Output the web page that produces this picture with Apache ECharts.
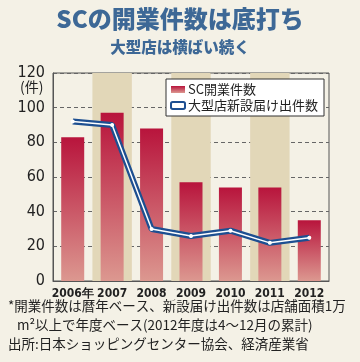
<!DOCTYPE html>
<html><head><meta charset="utf-8">
<script src="https://cdn.jsdelivr.net/npm/echarts@6/dist/echarts.min.js"></script>
<style>html,body{margin:0;padding:0;background:#f4f1e6;}#c{width:360px;height:362px;}</style>
</head><body><div id="c"></div>
<script>
const categories = ['2006年','2007','2008','2009','2010','2011','2012'];
const scOpenings = [83, 97, 88, 57, 54, 54, 35];
const largeStoreFilings = [92, 90, 30, 26, 29, 22, 25];
const yTicks = [0, 20, 40, 60, 80, 100, 120];

const chart = echarts.init(document.getElementById('c'), null, {renderer:'canvas'});
const narrow = '"DejaVu Sans Condensed","Liberation Sans Narrow",sans-serif';
const jp = '"Noto Sans CJK JP",sans-serif';
chart.setOption({
  backgroundColor:'#f4f1e6',
  animation:false,
  title:[
    {text:'SCの開業件数は底打ち', left:'center', top:2, textStyle:{fontFamily:jp, fontWeight:900, fontSize:24, color:'#3d6896'}},
    {text:'大型店は横ばい続く', left:'center', top:34, textStyle:{fontFamily:jp, fontWeight:900, fontSize:15.5, color:'#3d6896'}}
  ],
  grid:{left:53, right:31, top:73, bottom:81, show:true, borderColor:'#555', borderWidth:1, backgroundColor:'transparent'},
  legend:{
    data:[
      {name:'SC開業件数', icon:'rect'},
      {name:'大型店新設届け出件数', icon:'roundRect', itemStyle:{color:'#fff', borderColor:'#1d4f91', borderWidth:2}}
    ],
    orient:'vertical', left:166, top:79, width:157,
    backgroundColor:'#fff', borderColor:'#333', borderWidth:1, padding:[4,6,4,4],
    itemGap:3, itemWidth:14, itemHeight:7,
    textStyle:{fontFamily:jp, fontSize:13, color:'#222', padding:[0,0,0,-2]}
  },
  xAxis:{
    type:'category', data:categories, boundaryGap:true,
    axisLine:{lineStyle:{color:'#555'}}, axisTick:{show:false},
    axisLabel:{interval:0, fontFamily:narrow, fontSize:12, fontWeight:'bold', color:'#222', margin:7},
    splitArea:{show:true, interval:0, areaStyle:{color:['rgba(0,0,0,0)','#e2d7b8']}}
  },
  yAxis:{
    type:'value', min:0, max:120, interval:20,
    axisLine:{show:true, lineStyle:{color:'#555'}}, axisTick:{show:false},
    axisLabel:{fontFamily:narrow, fontSize:16, color:'#222', margin:8},
    splitLine:{show:true, lineStyle:{color:'#666', type:[4,3], width:1}}
  },
  graphic:[
    {type:'text', left:20, top:80, style:{text:'(件)', fontFamily:jp, fontSize:14, fill:'#222'}},
    {type:'text', left:8, top:299, style:{text:'*開業件数は暦年ベース、新設届け出件数は店舗面積1万', fontFamily:jp, fontSize:13.5, fill:'#222'}},
    {type:'text', left:17, top:318, style:{text:'m²以上で年度ベース(2012年度は4～12月の累計)', fontFamily:jp, fontSize:13.5, fill:'#222'}},
    {type:'text', left:8, top:337, style:{text:'出所:日本ショッピングセンター協会、経済産業省', fontFamily:jp, fontSize:13.5, fill:'#222'}}
  ],
  series:[
    {name:'SC開業件数', type:'bar', data:scOpenings, barWidth:23,
      itemStyle:{color:new echarts.graphic.LinearGradient(0,0,0,1,[{offset:0,color:'#b8143c'},{offset:1,color:'#dc9890'}])}},
    {name:'大型店新設届け出件数', type:'line', data:largeStoreFilings, symbol:'circle', symbolSize:4,
      lineStyle:{color:'#1d4f91', width:6}, itemStyle:{color:'#fff', borderColor:'#1d4f91', borderWidth:0}, z:3},
    {name:'inner', type:'line', data:largeStoreFilings, symbol:'circle', symbolSize:3, showSymbol:true,
      lineStyle:{color:'#fff', width:1.5}, itemStyle:{color:'#fff'}, z:4, silent:true}
  ]
});
</script></body></html>
